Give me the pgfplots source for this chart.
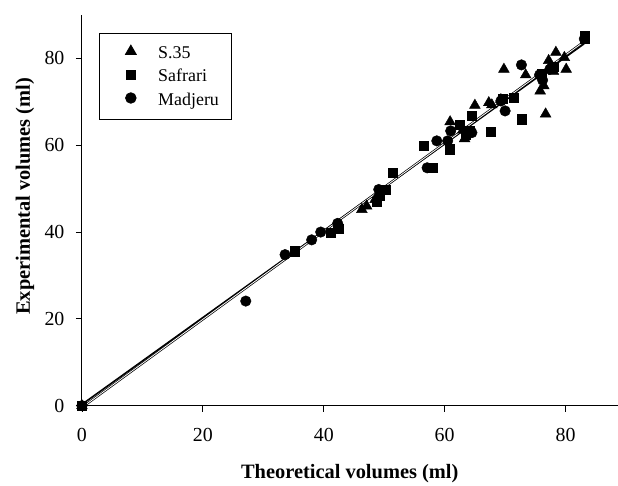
\documentclass[border=0pt]{standalone}
\usepackage{pgfplots}
\pgfplotsset{compat=1.18}
\usepackage{fontspec}
\setmainfont{Liberation Serif}
\begin{document}
\begin{tikzpicture}
\begin{axis}[
  scale only axis,
  width=536bp, height=391bp,
  xmin=0, xmax=88.6, ymin=0, ymax=90,
  axis lines*=left,
  axis line style={line width=0.9bp},
  tick align=outside,
  major tick length=6bp,
  tick style={line width=0.8bp, black},
  xtick={0,20,40,60,80}, ytick={0,20,40,60,80},
  /pgf/number format/assume math mode=true,
  ticklabel style={font=\fontsize{20}{22}\selectfont},
  xticklabel style={yshift=-13bp},
  yticklabel style={xshift=-8bp},
  xlabel={\textbf{Theoretical volumes (ml)}},
  ylabel={\textbf{Experimental volumes (ml)}},
  label style={font=\fontsize{20.5}{22}\selectfont},
  xlabel style={at={(axis description cs:0.5,0)}, anchor=north, yshift=-55bp},
  ylabel style={at={(axis description cs:0,0.5)}, anchor=center, xshift=14bp, yshift=57bp},
  clip=false,
  legend style={at={(axis description cs:0.032,0.954)}, anchor=north west,
    draw=black, line width=0.8bp, font=\fontsize{18}{20}\selectfont,
    row sep=5.5bp, inner xsep=10bp, inner ysep=11bp},
  legend cell align=left,
  legend image code/.code={\path (0,0) (46bp,0); \draw[#1] plot coordinates {(21bp,0)};},
]
\addplot[only marks, mark=triangle*, mark size=6.2bp, black] coordinates {
(0,0) (69.8,77.5) (73.4,76.2) (78.4,81.4) (77.2,79.5) (79.8,80.2) (80.1,77.5)
(76.7,67.2) (75.8,72.5) (76.4,73.7) (77.5,78.3) (65.0,69.2) (67.3,69.8)
(67.8,69.3) (60.9,65.4) (63.3,61.5) (63.0,63.5) (46.3,45.2) (47.1,46.0)
(48.5,47.5) (69.3,70.5) (78.0,77.0)
};
\addlegendentry{S.35}
\addplot[only marks, mark=square*, mark size=4.6bp, black] coordinates {
(0,0) (83.1,85.2) (83.1,84.5) (72.7,66.0) (67.6,63.1) (71.4,70.9) (69.6,70.8)
(62.5,64.8) (64.5,66.8) (64.2,63.3) (60.8,59.1) (56.5,59.8) (58.0,54.8)
(51.4,53.7) (50.3,49.8) (48.7,46.9) (49.2,48.5) (42.4,40.8) (41.1,39.8)
(35.2,35.6) (76.0,76.5) (78.0,78.0) (63.5,62.5)
};
\addlegendentry{Safrari}
\addplot[only marks, mark=*, mark size=5.3bp, black] coordinates {
(0,0) (83.1,84.5) (72.7,78.5) (75.7,76.2) (76.2,75.0) (77.4,77.5)
(69.3,70.2) (70.0,67.9) (64.5,62.9) (61.0,63.3) (60.5,61.0) (58.7,61.0)
(57.1,54.8) (49.1,49.8) (42.3,42.0) (39.5,40.0) (38.0,38.2) (33.6,34.8)
(27.1,24.1)
};
\addlegendentry{Madjeru}
\addplot[black, line width=1.6bp, forget plot] coordinates {(0,0.3) (83,83.3)};
\addplot[black, line width=0.7bp, double=white, double distance=0.8bp, forget plot] coordinates {(0,-0.4) (83,83.8)};
\coordinate (O) at (rel axis cs:0,0);
\coordinate (T) at (rel axis cs:1,1);
\end{axis}
\path ([shift={(-82bp,-77bp)}]O) rectangle ([shift={(0bp,15bp)}]T);
\end{tikzpicture}
\end{document}
